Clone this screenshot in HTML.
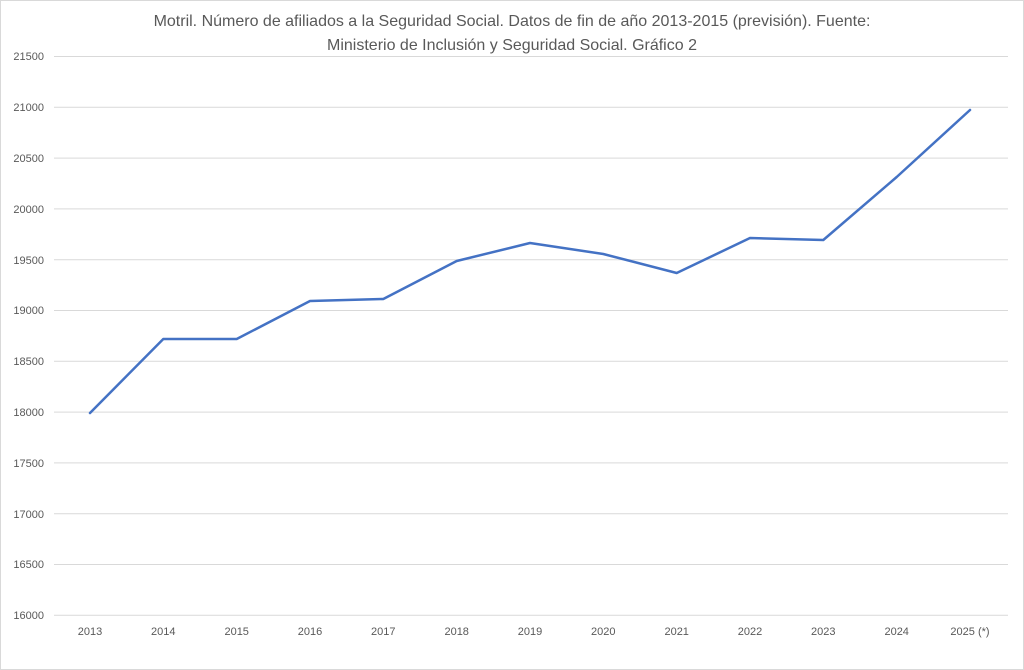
<!DOCTYPE html>
<html><head><meta charset="utf-8"><style>
body{margin:0;background:#fff;}
svg{display:block;font-family:"Liberation Sans",Arial,sans-serif;}
</style></head><body>
<svg width="1024" height="670" viewBox="0 0 1024 670">
<rect x="0.5" y="0.5" width="1023" height="669" fill="#fff" stroke="#d9d9d9"/>
<text x="512" y="26" text-anchor="middle" font-size="16" fill="#595959">Motril. Número de afiliados a la Seguridad Social. Datos de fin de año 2013-2015 (previsión). Fuente:</text>
<text x="512" y="50" text-anchor="middle" font-size="16" fill="#595959">Ministerio de Inclusión y Seguridad Social.  Gráfico 2</text>
<g stroke="#d9d9d9" stroke-width="1">
<line x1="54" x2="1008" y1="56.5" y2="56.5"/><line x1="54" x2="1008" y1="107.3" y2="107.3"/>
<line x1="54" x2="1008" y1="158.1" y2="158.1"/><line x1="54" x2="1008" y1="208.9" y2="208.9"/>
<line x1="54" x2="1008" y1="259.7" y2="259.7"/><line x1="54" x2="1008" y1="310.5" y2="310.5"/>
<line x1="54" x2="1008" y1="361.3" y2="361.3"/><line x1="54" x2="1008" y1="412.1" y2="412.1"/>
<line x1="54" x2="1008" y1="462.9" y2="462.9"/><line x1="54" x2="1008" y1="513.7" y2="513.7"/>
<line x1="54" x2="1008" y1="564.5" y2="564.5"/><line x1="54" x2="1008" y1="615.3" y2="615.3"/>
</g>
<g font-size="11" fill="#595959" text-anchor="end">
<text x="44" y="60">21500</text><text x="44" y="111">21000</text><text x="44" y="162">20500</text>
<text x="44" y="213">20000</text><text x="44" y="264">19500</text><text x="44" y="314">19000</text>
<text x="44" y="365">18500</text><text x="44" y="416">18000</text><text x="44" y="467">17500</text>
<text x="44" y="518">17000</text><text x="44" y="568">16500</text><text x="44" y="619">16000</text>
</g>
<g font-size="11" fill="#595959" text-anchor="middle">
<text x="90" y="635">2013</text><text x="163.3" y="635">2014</text><text x="236.7" y="635">2015</text>
<text x="310" y="635">2016</text><text x="383.3" y="635">2017</text><text x="456.7" y="635">2018</text>
<text x="530" y="635">2019</text><text x="603.3" y="635">2020</text><text x="676.7" y="635">2021</text>
<text x="750" y="635">2022</text><text x="823.3" y="635">2023</text><text x="896.7" y="635">2024</text>
<text x="970" y="635">2025 (*)</text>
</g>
<polyline fill="none" stroke="#4472c4" stroke-width="2.5" stroke-linejoin="round" stroke-linecap="round"
points="90,413 163.3,339 236.7,339 310,301 383.3,299 456.7,261 530,243 603.3,254 676.7,273 750,238 823.3,240 896.7,177 970,110"/>
</svg>
</body></html>
